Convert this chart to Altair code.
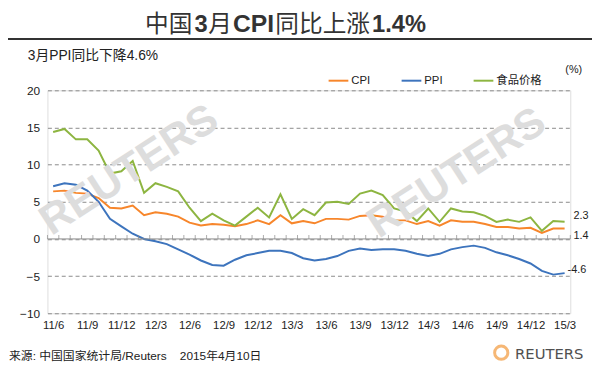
import altair as alt
import pandas as pd

# ---------------- data ----------------
months = [
    "11/6", "11/7", "11/8", "11/9", "11/10", "11/11", "11/12",
    "12/1", "12/2", "12/3", "12/4", "12/5", "12/6", "12/7", "12/8", "12/9", "12/10", "12/11", "12/12",
    "13/1", "13/2", "13/3", "13/4", "13/5", "13/6", "13/7", "13/8", "13/9", "13/10", "13/11", "13/12",
    "14/1", "14/2", "14/3", "14/4", "14/5", "14/6", "14/7", "14/8", "14/9", "14/10", "14/11", "14/12",
    "15/1", "15/2", "15/3",
]
cpi = [6.4, 6.5, 6.2, 6.1, 5.5, 4.2, 4.1,
       4.5, 3.2, 3.6, 3.4, 3.0, 2.2, 1.8, 2.0, 1.9, 1.7, 2.0, 2.5,
       2.0, 3.2, 2.1, 2.4, 2.1, 2.7, 2.7, 2.6, 3.1, 3.2, 3.0, 2.5,
       2.5, 2.0, 2.4, 1.8, 2.5, 2.3, 2.3, 2.0, 1.6, 1.6, 1.4, 1.5,
       0.8, 1.4, 1.4]
ppi = [7.1, 7.5, 7.3, 6.5, 5.0, 2.7, 1.7,
       0.7, 0.0, -0.3, -0.7, -1.4, -2.1, -2.9, -3.5, -3.6, -2.8, -2.2, -1.9,
       -1.6, -1.6, -1.9, -2.6, -2.9, -2.7, -2.3, -1.6, -1.3, -1.5, -1.4, -1.4,
       -1.6, -2.0, -2.3, -2.0, -1.4, -1.1, -0.9, -1.2, -1.8, -2.2, -2.7, -3.3,
       -4.3, -4.8, -4.6]
food = [14.4, 14.8, 13.4, 13.4, 11.9, 8.8, 9.1,
        10.5, 6.2, 7.5, 7.0, 6.4, 4.2, 2.4, 3.4, 2.5, 1.8, 3.0, 4.2,
        2.9, 6.0, 2.7, 4.0, 3.2, 4.9, 5.0, 4.7, 6.1, 6.5, 5.9, 4.1,
        3.7, 2.4, 4.1, 2.3, 4.1, 3.7, 3.6, 3.1, 2.3, 2.6, 2.3, 2.9,
        1.1, 2.4, 2.3]
series_names = ["CPI", "PPI", "食品价格"]
series_colors = ["#F7862B", "#3D74BD", "#8DB541"]
x_label_months = ["11/6", "11/9", "11/12", "12/3", "12/6", "12/9", "12/12", "13/3",
                  "13/6", "13/9", "13/12", "14/3", "14/6", "14/9", "14/12", "15/3"]
y_ticks = [-10, -5, 0, 5, 10, 15, 20]
end_labels = ["2.3", "1.4", "-4.6"]
end_values = [2.3, 1.4, -4.6]

title_parts = ["中国", "3", "月", "CPI", "同比上涨", "1.4%"]
subtitle = "3月PPI同比下降4.6%"
source_text = "来源: 中国国家统计局/Reuters" + "\u00a0" * 4 + "2015年4月10日"

FONT = "Liberation Sans, Noto Sans CJK SC, sans-serif"

# ---------------- tables ----------------
n = len(months)
rows = []
for name, vals in zip(series_names, [cpi, ppi, food]):
    for i, v in enumerate(vals):
        rows.append({"i": i, "month": months[i], "series": name, "value": v})
df = pd.DataFrame(rows)
bounds = pd.DataFrame({"i": [k - 0.5 for k in range(n + 1)], "value": [0] * (n + 1)})
zero_df = pd.DataFrame({"value": [0]})
ends = pd.DataFrame({"i": [n - 1] * 3, "value": end_values, "label": end_labels})
one = pd.DataFrame({"a": [0]})

label_array = "[" + ",".join("'" + m + "'" for m in months) + "]"
tick_idx = [months.index(m) for m in x_label_months]

xscale = alt.Scale(domain=[-0.5, n - 0.5], nice=False, zero=False)
yscale = alt.Scale(domain=[-10, 20], nice=False, zero=False)

x_axis = alt.Axis(values=tick_idx, labelExpr=label_array + "[datum.value]",
                  title=None, grid=False, domain=False, ticks=False,
                  labelFont=FONT, labelFontSize=11.5, labelColor="#222222",
                  labelPadding=6, labelFlush=False)
y_axis = alt.Axis(values=y_ticks, title=None, grid=True, gridDash=[4, 3],
                  gridColor="#8a8a8a", gridWidth=1, domain=False, ticks=False,
                  labelPadding=8, labelFont=FONT, labelFontSize=12,
                  labelColor="#222222")


def X(field="i:Q"):
    return alt.X(field, scale=xscale, axis=x_axis)


def Y(field="value:Q"):
    return alt.Y(field, scale=yscale, axis=y_axis)


# plot origin on page = (48, 89)
OX, OY = 48, 89


def txt(text, px, py, size=12, weight="normal", color="#222222", align="left",
        baseline="middle", font=FONT, angle=0):
    kw = dict(text=text, fontSize=size, fontWeight=weight, color=color, align=align,
              baseline=baseline, font=font)
    if angle:
        kw["angle"] = angle
    return alt.Chart(one).mark_text(**kw).encode(
        x=alt.value(px - OX), y=alt.value(py - OY))


# ---------------- layers ----------------
lines = alt.Chart(df).mark_line(strokeWidth=2).encode(
    x=X(), y=Y(),
    color=alt.Color("series:N", scale=alt.Scale(domain=series_names, range=series_colors),
                    legend=alt.Legend(title=None, orient="none", legendX=284, legendY=-21,
                                      direction="horizontal", symbolType="stroke",
                                      symbolSize=400, symbolStrokeWidth=2,
                                      labelFont=FONT, labelFontSize=11.5,
                                      labelColor="#222222", labelOffset=2,
                                      columnPadding=27, padding=0)),
    order=alt.Order("i:Q"),
)

zero_rule = alt.Chart(zero_df).mark_rule(color="#8a8a8a", strokeWidth=1).encode(y=Y())

ticks = alt.Chart(bounds).mark_tick(orient="vertical", size=4, thickness=1,
                                    color="#8a8a8a", yOffset=-2).encode(x=X(), y=Y())

end_layers = []
for lab, dx, dy in zip(end_labels, [9, 9, 3], [-6, 8, -3]):
    d = ends[ends["label"] == lab]
    end_layers.append(
        alt.Chart(d).mark_text(align="left", baseline="middle", dx=dx, dy=dy,
                               fontSize=11, font=FONT, color="#222222").encode(
            x=X(), y=Y(), text="label:N"))

# watermarks
wm_left = txt("REUTERS", 131, 170, size=43, weight="bold", color="#dddddd",
              align="center", angle=327)
wm_right = txt("REUTERS", 463, 173, size=43, weight="bold", color="#dddddd",
               align="center", angle=327)

# title in segments (CJK regular, Latin bold)
title_x = [147, 197, 211, 236, 279, 377]
title_bold = [False, True, False, True, False, True]
title_size = [24, 24, 24, 25, 24, 24]
title_layers = []
for part, px, b, s in zip(title_parts, title_x, title_bold, title_size):
    title_layers.append(txt(part, px, 30, size=s, baseline="alphabetic",
                            weight=("bold" if b else "normal"), color="#333333"))

title_rule = alt.Chart(one).mark_rule(color="#333333", strokeWidth=2).encode(
    x=alt.value(-OX), x2=alt.value(600 - OX), y=alt.value(37 - OY))

sub = txt(subtitle, 28, 54, size=14)
pct = txt("(%)", 573, 68, size=11)
src = txt(source_text, 9, 358, size=12)
logo_ring = alt.Chart(one).mark_point(shape="circle", filled=False, size=180,
                                      strokeWidth=3, color="#F39A3C").encode(
    x=alt.value(508 - OX), y=alt.value(355 - OY))
logo_txt = txt("REUTERS", 522, 356, size=15, color="#505050",
               font="DejaVu Sans, sans-serif")

chart = alt.layer(
    lines, wm_left, wm_right, zero_rule, ticks, *end_layers,
    *title_layers, title_rule, sub, pct, src, logo_ring, logo_txt,
).properties(
    width=530, height=226,
    autosize=alt.AutoSizeParams(type="none"),
    padding={"left": 40, "top": 81, "right": 22, "bottom": 49},
).configure_view(stroke=None).configure(background="white")

chart.save("out.html", embed_options={"renderer": "svg", "actions": False})
